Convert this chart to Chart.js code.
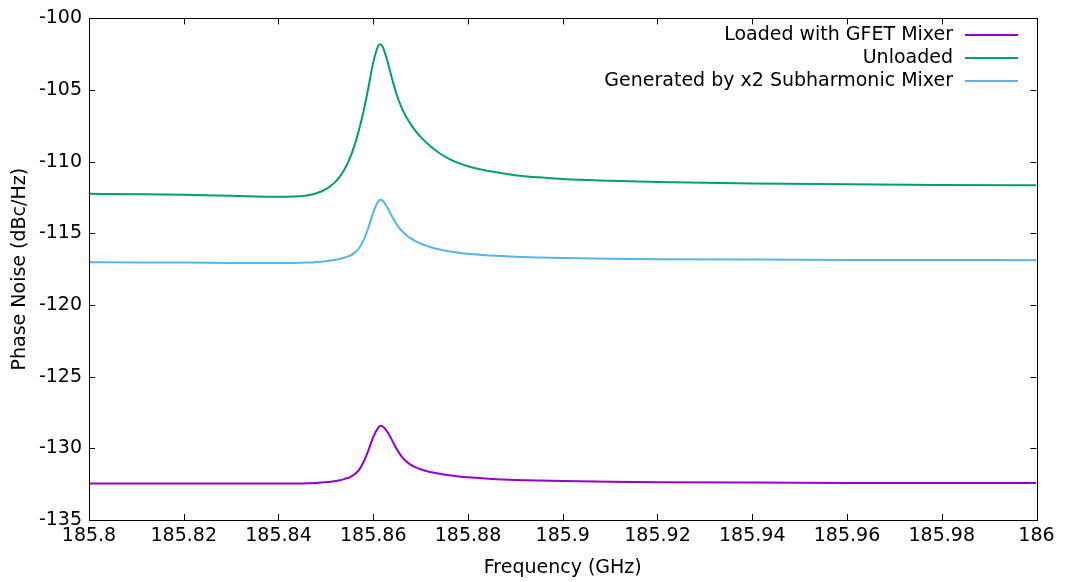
<!DOCTYPE html>
<html>
<head>
<meta charset="utf-8">
<title>Phase Noise</title>
<script src="https://cdn.jsdelivr.net/npm/chart.js@4.4.1/dist/chart.umd.min.js"></script>
<style>
    html, body { margin: 0; padding: 0; background: #fff; }
    #wrap { width: 1066px; height: 582px; }
</style>
</head>
<body>
<div id="wrap"><canvas id="noiseChart"></canvas></div>
<script>
// Frequency grid (GHz), 1 MHz steps around the resonance
const freqs = [
    185.8, 185.81, 185.82, 185.83, 185.84, 185.843,
    185.846, 185.847, 185.848, 185.849, 185.85, 185.851, 185.852, 185.853,
    185.854, 185.855, 185.856, 185.857, 185.858, 185.859, 185.86, 185.861,
    185.8615,
    185.862, 185.863, 185.864, 185.865, 185.866, 185.867, 185.868, 185.869, 185.87,
    185.872, 185.874, 185.876, 185.878, 185.88,
    185.883, 185.886, 185.89, 185.895, 185.9,
    185.91, 185.92, 185.94, 185.96, 185.98, 186.0
];

const loadedGfet = [
    -132.46, -132.46, -132.46, -132.46, -132.46, -132.46,
    -132.44, -132.43, -132.41, -132.39, -132.36, -132.33, -132.28, -132.22,
    -132.13, -132.02, -131.83, -131.50, -130.92, -130.12, -129.21, -128.59,
    -128.43,
    -128.48, -128.86, -129.46, -130.08, -130.57, -130.92, -131.17, -131.33, -131.46,
    -131.65, -131.78, -131.88, -131.96, -132.02,
    -132.095, -132.15, -132.205, -132.25, -132.285,
    -132.33, -132.36, -132.39, -132.41, -132.42, -132.42
];

const unloaded = [
    -112.24, -112.27, -112.31, -112.38, -112.45, -112.43,
    -112.35, -112.29, -112.20, -112.08, -111.91, -111.69, -111.41, -111.00,
    -110.49, -109.80, -108.91, -107.77, -106.41, -104.78, -103.07, -101.95,
    -101.81,
    -101.99, -103.00, -104.25, -105.38, -106.24, -106.90, -107.43, -107.88, -108.27,
    -108.91, -109.41, -109.80, -110.10, -110.32,
    -110.56, -110.74, -110.94, -111.09, -111.20,
    -111.33, -111.42, -111.52, -111.58, -111.62, -111.64
];

const subharmonic = [
    -117.01, -117.03, -117.04, -117.06, -117.07, -117.06,
    -117.04, -117.03, -117.00, -116.98, -116.94, -116.90, -116.84, -116.77,
    -116.68, -116.57, -116.38, -116.04, -115.44, -114.57, -113.53, -112.79,
    -112.65,
    -112.72, -113.21, -113.84, -114.40, -114.82, -115.13, -115.37, -115.56, -115.71,
    -115.95, -116.12, -116.25, -116.35, -116.43,
    -116.51, -116.57, -116.63, -116.68, -116.72,
    -116.77, -116.80, -116.83, -116.85, -116.86, -116.87
];

const xTickValues = [185.8, 185.82, 185.84, 185.86, 185.88, 185.9, 185.92, 185.94, 185.96, 185.98, 186];
const yTickValues = [-135, -130, -125, -120, -115, -110, -105, -100];

const FONT = 'DejaVu Sans';
const FONT_SIZE = 19;

const toPoints = ys => freqs.map((f, i) => ({ x: f, y: ys[i] }));

// gnuplot-style frame with inward ticks on all four sides
const framePlugin = {
    id: 'frame',
    afterDatasetsDraw(chart) {
        const { ctx, chartArea: a, scales } = chart;
        const len = 6;
        ctx.save();
        ctx.strokeStyle = '#000';
        ctx.lineWidth = 1;
        ctx.beginPath();
        scales.x.ticks.forEach(t => {
            const px = Math.round(scales.x.getPixelForValue(t.value)) + 0.5;
            ctx.moveTo(px, a.bottom); ctx.lineTo(px, a.bottom - len);
            ctx.moveTo(px, a.top); ctx.lineTo(px, a.top + len);
        });
        scales.y.ticks.forEach(t => {
            const py = Math.round(scales.y.getPixelForValue(t.value)) + 0.5;
            ctx.moveTo(a.left, py); ctx.lineTo(a.left + len, py);
            ctx.moveTo(a.right, py); ctx.lineTo(a.right - len, py);
        });
        ctx.stroke();
        ctx.strokeRect(Math.round(a.left) + 0.5, Math.round(a.top) + 0.5,
            Math.round(a.right - a.left), Math.round(a.bottom - a.top));
        ctx.restore();
    }
};

// key in the top right corner: label right-aligned, sample line after it
const keyPlugin = {
    id: 'key',
    afterDraw(chart) {
        const { ctx } = chart;
        const textRight = 953, lineStart = 965, lineEnd = 1018;
        const rows = [35, 58, 81];
        ctx.save();
        ctx.font = `${FONT_SIZE}px "${FONT}"`;
        ctx.textAlign = 'right';
        ctx.textBaseline = 'middle';
        chart.data.datasets.forEach((ds, i) => {
            ctx.fillStyle = '#000';
            ctx.fillText(ds.label, textRight, rows[i]);
            ctx.strokeStyle = ds.borderColor;
            ctx.lineWidth = 2;
            ctx.beginPath();
            ctx.moveTo(lineStart, rows[i]);
            ctx.lineTo(lineEnd, rows[i]);
            ctx.stroke();
        });
        ctx.restore();
    }
};

const ctx = document.getElementById('noiseChart').getContext('2d');

new Chart(ctx, {
    type: 'line',
    data: {
        datasets: [
            {
                label: 'Loaded with GFET Mixer',
                data: toPoints(loadedGfet),
                borderColor: '#9400d3',
            },
            {
                label: 'Unloaded',
                data: toPoints(unloaded),
                borderColor: '#009e73',
            },
            {
                label: 'Generated by x2 Subharmonic Mixer',
                data: toPoints(subharmonic),
                borderColor: '#56b4e9',
            },
        ],
    },
    options: {
        responsive: true,
        maintainAspectRatio: false,
        animation: false,
        datasets: {
            line: {
                borderWidth: 2,
                pointRadius: 0,
                fill: false,
                cubicInterpolationMode: 'monotone',
            },
        },
        layout: {
            padding: { left: 0, right: 29.5, top: 18, bottom: 0 },
        },
        plugins: {
            legend: { display: false },
            tooltip: { enabled: false },
        },
        scales: {
            x: {
                type: 'linear',
                min: 185.8,
                max: 186,
                afterBuildTicks: scale => {
                    scale.ticks = xTickValues.map(v => ({ value: v }));
                },
                afterFit: scale => { scale.height = 62; },
                grid: { drawOnChartArea: false, drawTicks: false },
                border: { display: false },
                ticks: {
                    color: '#000',
                    padding: 5,
                    maxRotation: 0,
                    autoSkip: false,
                    font: { family: FONT, size: FONT_SIZE },
                    callback: v => String(Number(v.toFixed(2))),
                },
                title: {
                    display: true,
                    text: 'Frequency (GHz)',
                    color: '#000',
                    font: { family: FONT, size: FONT_SIZE },
                    padding: { top: 0, bottom: 3 },
                },
            },
            y: {
                min: -135,
                max: -100,
                afterBuildTicks: scale => {
                    scale.ticks = yTickValues.map(v => ({ value: v }));
                },
                afterFit: scale => { scale.width = 89; },
                grid: { drawOnChartArea: false, drawTicks: false },
                border: { display: false },
                ticks: {
                    color: '#000',
                    padding: 7,
                    autoSkip: false,
                    font: { family: FONT, size: FONT_SIZE },
                },
                title: {
                    display: true,
                    text: 'Phase Noise (dBc/Hz)',
                    color: '#000',
                    font: { family: FONT, size: FONT_SIZE },
                    padding: { top: 9, bottom: 0 },
                },
            },
        },
    },
    plugins: [framePlugin, keyPlugin],
});
</script>
</body>
</html>
